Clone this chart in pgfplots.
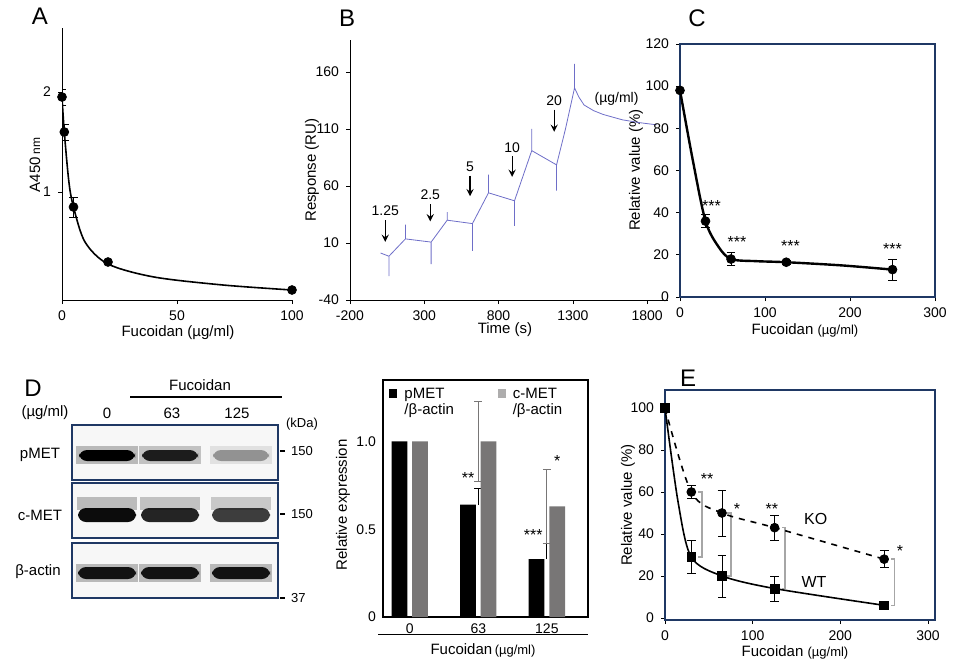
\documentclass[border=0pt]{standalone}
\usepackage{pgfplots}
\pgfplotsset{compat=1.18}
\usepackage{fontspec}
\setmainfont{Liberation Sans}
\definecolor{boxc}{RGB}{31,56,100}
\definecolor{spr}{RGB}{110,110,200}
\definecolor{gbar}{RGB}{120,118,118}
\pgfplotsset{every axis/.append style={scale only axis, anchor=south west,
  tick label style={font=\fontsize{7}{8}\selectfont},
  /pgf/number format/assume math mode=true, /pgf/number format/1000 sep={}, tick style={black,thin}, major tick length=2pt, tick align=outside,
  axis line style={black}}}
\newcommand\lab{\fontsize{7.5}{8}\selectfont}
\begin{document}
\begin{tikzpicture}
\begin{scope}[x=0.5pt,y=-0.5pt]
\path (0,0) rectangle (963,670);
% panel letters
\node[font=\fontsize{12}{12}\selectfont] at (40,16) {A};
\node[font=\fontsize{12}{12}\selectfont] at (347,18) {B};
\node[font=\fontsize{12}{12}\selectfont] at (697,18) {C};
\node[font=\fontsize{12}{12}\selectfont] at (33,388) {D};
\node[font=\fontsize{12}{12}\selectfont] at (688,378) {E};
% axis labels
\node[rotate=90,font=\lab] at (35,165) {A450\,{\fontsize{6}{6}\selectfont nm}};
\node[font=\lab] at (178,333) {Fucoidan (µg/ml)};
\node[rotate=90,font=\lab] at (312,170) {Response (RU)};
\node[font=\lab] at (505,330) {Time (s)};
\node[rotate=90,font=\lab] at (636,170) {Relative value (\%)};
\node[font=\lab] at (805,330) {Fucoidan {\fontsize{6.5}{7}\selectfont(µg/ml)}};
\node[rotate=90,font=\lab] at (628,505) {Relative value (\%)};
\node[font=\lab] at (795,652) {Fucoidan {\fontsize{6.5}{7}\selectfont(µg/ml)}};
\node[rotate=90,font=\lab] at (343,505) {Relative expression};
\draw (378,634) -- (588,634);
\node[font=\lab] at (483,650) {Fucoidan\,{\fontsize{6.5}{7}\selectfont(µg/ml)}};
% western blot
\node[font=\lab] at (200,385) {Fucoidan};
\draw[line width=1pt] (130,397) -- (282,397);
\node[font=\lab] at (45,413) {(µg/ml)};
\node[font=\lab] at (107,413) {0};
\node[font=\lab] at (172,413) {63};
\node[font=\lab] at (237,413) {125};
\node[font=\fontsize{6.5}{7}\selectfont] at (302,424) {(kDa)};
\foreach \yy/\tt in {451/150,514/150,598/37}{
 \draw[line width=1pt] (280,\yy) -- (285,\yy);
 \node[font=\fontsize{6.5}{7}\selectfont,anchor=west] at (284,\yy) {\tt};}
\node[font=\lab] at (40,455) {pMET};
\node[font=\lab] at (40,515) {c-MET};
\node[font=\lab] at (38,572) {β-actin};
\foreach \ya/\yb in {425/480,483/538,543/598}{
 \fill[white!97!black] (72,\ya) rectangle (278,\yb);}
% bands
\foreach \xx/\op in {107/1,170/0.85,241/0.35}{
 \fill[black,opacity=0.25*\op] (\xx-31,446) rectangle (\xx+31,464);
 \fill[black,opacity=\op,rounded corners=4pt] (\xx-28,450) rectangle (\xx+28,461);}
\foreach \xx/\op in {107/0.95,170/0.85,241/0.75}{
 \fill[black,opacity=0.25*\op] (\xx-30,497) rectangle (\xx+30,510);
 \fill[black,opacity=\op,rounded corners=4pt] (\xx-29,508) rectangle (\xx+29,522);}
\foreach \xx in {107,170,241}{
 \fill[black,opacity=0.25] (\xx-31,564) rectangle (\xx+31,582);
 \fill[black,opacity=0.9,rounded corners=4pt] (\xx-29,567) rectangle (\xx+29,579);}
\foreach \ya/\yb in {425/480,483/538,543/598}{
 \draw[boxc,line width=0.8pt] (72,\ya) rectangle (278,\yb);}
\end{scope}

% ---------- A
\begin{axis}[at={(62*0.5pt,-300*0.5pt)}, width=115pt, height=136pt,
 xmin=0,xmax=100,ymin=-0.08,ymax=2.64, axis x line*=bottom, axis y line*=left,
 xtick={0,50,100}, ytick={1,2}]
\addplot[black,thick,smooth] coordinates {(0,1.95)(1,1.6)(3,1.1)(5,0.85)(10,0.5)(20,0.28)(40,0.15)(70,0.07)(100,0.02)};
\addplot[only marks,mark=*,mark size=2.2pt,black,error bars/.cd,y dir=both,y explicit] coordinates {(0,1.95)+-(0,0.08)(1,1.6)+-(0,0.08)(5,0.85)+-(0,0.1)(20,0.3)(100,0.02)};
\end{axis}

% ---------- B
\begin{axis}[at={(350*0.5pt,-300*0.5pt)}, width=159pt, height=130pt,
 xmin=-200,xmax=1940,ymin=-40,ymax=188, axis x line*=bottom, axis y line*=left,
 xtick={-200,300,800,1300,1800}, ytick={-40,10,60,110,160}]
\addplot[spr,thin] coordinates {(6,1.2)(62,-1.6)(62,-19)(62,-1.6)(173,13.6)(173,26)(173,13.6)(346,10.8)(346,-8.5)(346,10.8)
(454,30)(454,37)(454,30)(624,27)(624,3)(624,27)(732,54)(732,70)(732,54)(907,47)(907,25)(907,47)
(1023,91)(1023,110)(1023,91)(1190,78.5)(1190,56)(1190,78.5)(1250,110)(1311,146)(1311,167)(1311,146)(1340,138)(1375,131)(1440,126)(1504,122.7)(1633,118)(1750,115.5)(1864,113.6)};
\foreach \t/\yl/\ya/\yb/\lb in {37/38.5/30/11/1.25,340/52/44/29/2.5,608/77/69/51/5,891/94/86/68/10,1174/135/127/107.5/20}{
 \edef\tmp{\noexpand\node[font=\noexpand\fontsize{7}{8}\noexpand\selectfont] at (axis cs:\t,\yl) {\lb};
 \noexpand\draw[-stealth,semithick] (axis cs:\t,\ya) -- (axis cs:\t,\yb);}\tmp}
\node[font=\fontsize{7}{8}\selectfont] at (axis cs:1594,136.5) {(µg/ml)};
\end{axis}

% ---------- C
\begin{axis}[at={(680*0.5pt,-297*0.5pt)}, width=127.5pt, height=126.5pt,
 xmin=0,xmax=300,ymin=0,ymax=120, axis line style={boxc,thick},
 xtick={0,100,200,300}, ytick={0,20,...,120}, xtick pos=bottom, ytick pos=left]
\addplot[black,very thick,smooth] coordinates {(0,98)(15,65)(30,36)(45,24)(60,18)(90,17)(125,16.5)(190,15)(250,13)};
\addplot[only marks,mark=*,mark size=2.2pt,black,error bars/.cd,y dir=both,y explicit] coordinates {(0,98)(30,36)+-(0,3)(60,18)+-(0,3)(125,16.5)+-(0,1)(250,13)+-(0,5)};
\node[font=\fontsize{8}{8}\selectfont] at (axis cs:37,43) {***};
\node[font=\fontsize{8}{8}\selectfont] at (axis cs:67,26) {***};
\node[font=\fontsize{8}{8}\selectfont] at (axis cs:130,24) {***};
\node[font=\fontsize{8}{8}\selectfont] at (axis cs:250,23) {***};
\end{axis}

% ---------- D bars
\begin{axis}[at={(383*0.5pt,-617*0.5pt)}, width=102.5pt, height=118.5pt,
 xmin=-0.39,xmax=2.6,ymin=0,ymax=1.35, axis line style={black,thick},
 xtick={0,1,2}, xticklabels={0,63,125}, ytick={0,0.5,1}, yticklabels={0,0.5,1.0},
 xtick pos=bottom, ytick pos=left, major tick length=0pt]
\addplot[draw=none,fill=black,ybar,bar width=0.23,bar shift=-0.15,error bars/.cd,y dir=plus,y explicit,error bar style={black}]
 coordinates {(0,1)(1,0.64)+-(0,0.09)(2,0.33)+-(0,0.09)};
\addplot[draw=none,fill=gbar,ybar,bar width=0.23,bar shift=0.15,error bars/.cd,y dir=both,y explicit,error bar style={gbar}]
 coordinates {(0,1)(1,1.0)+-(0,0.23)(2,0.63)+-(0,0.21)};
\node[font=\fontsize{8}{8}\selectfont] at (axis cs:0.85,0.79) {**};
\node[font=\fontsize{8}{8}\selectfont] at (axis cs:1.8,0.47) {***};
\node[font=\fontsize{8}{8}\selectfont] at (axis cs:2.15,0.89) {*};
\fill[black] (axis cs:-0.3,1.25) rectangle (axis cs:-0.18,1.3);
\node[font=\fontsize{7.5}{8}\selectfont,anchor=west,align=left] at (axis cs:-0.18,1.22) {pMET\\/β-actin};
\fill[gbar!60] (axis cs:1.28,1.25) rectangle (axis cs:1.4,1.3);
\node[font=\fontsize{7.5}{8}\selectfont,anchor=west,align=left] at (axis cs:1.4,1.22) {c-MET\\/β-actin};
\end{axis}

% ---------- E
\begin{axis}[at={(665*0.5pt,-620*0.5pt)}, width=135pt, height=115pt,
 xmin=0,xmax=308,ymin=-1,ymax=108.6, axis line style={boxc,thick},
 xtick={0,100,200,300}, ytick={0,20,...,100}, xtick pos=bottom, ytick pos=left]
\foreach \xx/\ya/\yb in {42/29/60,75/20/50,137/14/43,262/6/28}{
 \edef\tmp{\noexpand\draw[gray!70,thick] (axis cs:\xx-4,\ya) -- (axis cs:\xx,\ya) -- (axis cs:\xx,\yb) -- (axis cs:\xx-4,\yb);}\tmp}
\addplot[black,thick,dashed,smooth] coordinates {(0,100)(30,60)(65,50)(125,43)(250,28)};
\addplot[black,thick,smooth] coordinates {(0,100)(15,55)(30,29)(65,20)(125,14)(250,6)};
\addplot[only marks,mark=*,mark size=2.2pt,black,error bars/.cd,y dir=both,y explicit] coordinates {(30,60)+-(0,3)(65,50)+-(0,11)(125,43)+-(0,6)(250,28)+-(0,4)};
\addplot[only marks,mark=square*,mark size=2.2pt,black,error bars/.cd,y dir=both,y explicit] coordinates {(0,100)(30,29)+-(0,8)(65,20)+-(0,10)(125,14)+-(0,6)(250,6)+-(0,1)};
\node[font=\fontsize{8}{8}\selectfont] at (axis cs:48,66) {**};
\node[font=\fontsize{8}{8}\selectfont] at (axis cs:82,52) {*};
\node[font=\fontsize{8}{8}\selectfont] at (axis cs:122,52) {**};
\node[font=\fontsize{8}{8}\selectfont] at (axis cs:268,32) {*};
\node[font=\fontsize{8}{8}\selectfont] at (axis cs:172,47) {KO};
\node[font=\fontsize{8}{8}\selectfont] at (axis cs:170,17) {WT};
\end{axis}
\end{tikzpicture}
\end{document}
